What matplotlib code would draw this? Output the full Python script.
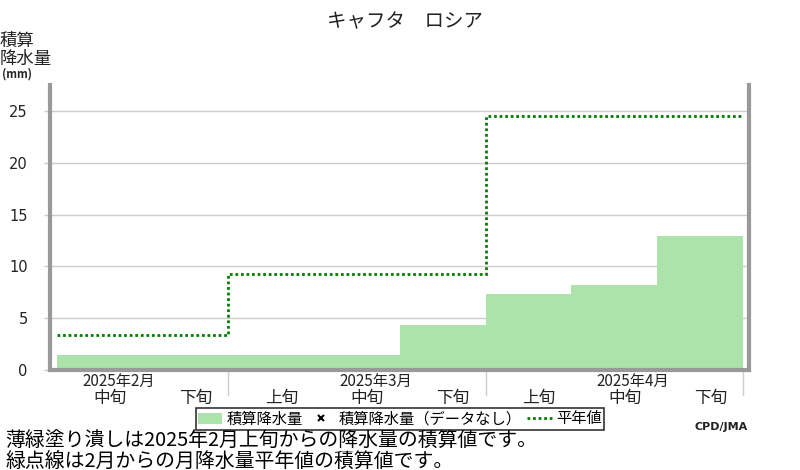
import matplotlib.pyplot as plt
from matplotlib.patches import Patch
from matplotlib.lines import Line2D

plt.rcParams['font.family'] = ['Noto Sans CJK JP', 'DejaVu Sans']

# dekads shown on the x axis (2月中旬 .. 4月下旬)
dekads = ['中旬', '下旬', '上旬', '中旬', '下旬', '上旬', '中旬', '下旬']
months = ['2025年2月', '2025年3月', '2025年4月']
month_pos = [0, 3, 6]          # dekad index the month label sits over
month_ends = [2, 5, 8]         # separator positions

# accumulated precipitation (mm) per dekad
accum = [1.45, 1.45, 1.45, 1.45, 4.35, 7.34, 8.2, 12.95]
# accumulated monthly normal (mm)
normal = [3.38, 3.38, 9.25, 9.25, 9.25, 24.5, 24.5, 24.5]

fill_col = '#abe3aa'
line_col = '#008000'
spine_col = '#999999'

fig = plt.figure(figsize=(8, 4.7), dpi=100)
ax = fig.add_axes([50 / 800, 100 / 470, 699 / 800, 285 / 470])

edges = list(range(len(accum) + 1))
ax.bar(edges[:-1], accum, width=1, align='edge', color=fill_col, linewidth=0, zorder=2)
ax.stairs(normal, edges, baseline=None, color=line_col, linestyle=(0, (1, 1)),
          linewidth=2, zorder=3)

ax.set_xlim(-0.08, 8.07)
ax.set_ylim(0, 27.5)
ax.set_yticks([0, 5, 10, 15, 20, 25])
ax.set_xticks([])
ax.grid(axis='y', color='#cccccc', linewidth=1, zorder=0)
ax.set_axisbelow(True)
ax.tick_params(axis='y', length=4, width=1, color='#cccccc', pad=12,
               labelsize=10.5, labelcolor='#222222')
for lab in ax.get_yticklabels():
    lab.set_fontfamily('DejaVu Sans')

ax.spines['top'].set_visible(False)
for s in ['left', 'right', 'bottom']:
    ax.spines[s].set_color(spine_col)
    ax.spines[s].set_linewidth(3)

trans = ax.get_xaxis_transform()
px = 1 / 285
for xe in month_ends:
    ax.plot([xe, xe], [-2 * px, -25 * px], color='#cccccc', linewidth=1,
            transform=trans, clip_on=False)
for i, d in enumerate(dekads):
    ax.text(i + 0.62, -28 * px, d, transform=trans, ha='center', va='center',
            fontsize=12, color='#222222')
for m, p in zip(months, month_pos):
    ax.text(p + 0.72, -11 * px, m, transform=trans, ha='center', va='center',
            fontsize=11, color='#222222')

fig.text(405 / 800, 1 - 22 / 470, 'キャフタ\u3000ロシア', ha='center', va='center',
         fontsize=14, color='#222222')
fig.text(0, 1 - 41 / 470, '積算', ha='left', va='center', fontsize=12.5,
         color='#222222')
fig.text(0, 1 - 59 / 470, '降水量', ha='left', va='center', fontsize=12.5,
         color='#222222')
fig.text(2 / 800, 1 - 74 / 470, '(mm)', ha='left', va='center', fontsize=8,
         fontweight='bold', color='#222222')

handles = [Patch(facecolor=fill_col, edgecolor='none'),
           Line2D([], [], marker='x', linestyle='none', color='black',
                  markersize=5, markeredgewidth=1.5),
           Line2D([], [], color=line_col, linestyle=(0, (1, 1)), linewidth=2)]
labels = ['積算降水量', '積算降水量（データなし）', '平年値']
leg = fig.legend(handles, labels, loc='center', bbox_to_anchor=(400 / 800, 1 - 419 / 470),
                 ncol=3, fontsize=11, frameon=True, fancybox=False, edgecolor='black',
                 handlelength=1.6, handletextpad=0.3, columnspacing=0.4,
                 borderpad=0.15, borderaxespad=0)
leg.get_frame().set_linewidth(1.2)

fig.text(748 / 800, 1 - 427 / 470, 'CPD/JMA', ha='right', va='center', fontsize=8,
         fontweight='bold', color='#222222', family='DejaVu Sans')
fig.text(5 / 800, 1 - 441 / 470, '薄緑塗り潰しは2025年2月上旬からの降水量の積算値です。',
         ha='left', va='center', fontsize=14.3, color='black')
fig.text(5 / 800, 1 - 461 / 470, '緑点線は2月からの月降水量平年値の積算値です。',
         ha='left', va='center', fontsize=14.3, color='black')

fig.savefig('out.png', dpi=100)
